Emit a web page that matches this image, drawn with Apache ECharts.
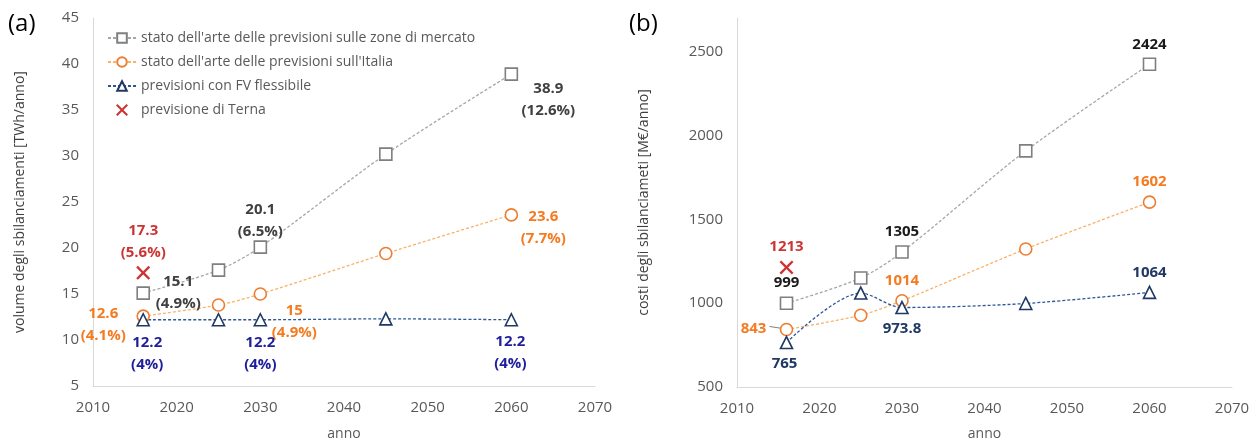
<!DOCTYPE html>
<html>
<head>
<meta charset="utf-8">
<script src="https://cdn.jsdelivr.net/npm/echarts@6/dist/echarts.min.js"></script>
<style>
  html, body { margin: 0; padding: 0; background: #fff; }
  #chart { width: 1258px; height: 446px; }
</style>
</head>
<body>
<div id="chart"></div>
<script>
// dati
var years = [2016, 2025, 2030, 2045, 2060];
var ternaYear = 2016;

// (a) volume degli sbilanciamenti [TWh/anno]
var volMercato = [15.1, 17.6, 20.1, 30.2, 38.9];
var volItalia = [12.6, 13.8, 15.0, 19.4, 23.6];
var volFV = [12.2, 12.2, 12.2, 12.3, 12.2];
var volTerna = 17.3;
var volMercatoText = ['15.1\n(4.9%)', '', '20.1\n(6.5%)', '', '38.9\n(12.6%)'];
var volItaliaText = ['12.6\n(4.1%)', '', '15\n(4.9%)', '', '23.6\n(7.7%)'];
var volFVText = ['12.2\n(4%)', '', '12.2\n(4%)', '', '12.2\n(4%)'];
var volTernaText = '17.3\n(5.6%)';

// (b) costi degli sbilanciamenti [M€/anno]
var costMercato = [999, 1150, 1305, 1908, 2424];
var costItalia = [843, 928, 1014, 1323, 1602];
var costFV = [765, 1060, 973.8, 998, 1064];
var costTerna = 1213;
var costMercatoText = ['999', '', '1305', '', '2424'];
var costItaliaText = ['843', '', '1014', '', '1602'];
var costFVText = ['765', '', '973.8', '', '1064'];
var costTernaText = '1213';

var xTicks = [2010, 2070, 10];
var volTicks = [5, 45, 5];
var costTicks = [500, 2700, 500];

var names = [
  "stato dell'arte delle previsioni sulle zone di mercato",
  "stato dell'arte delle previsioni sull'Italia",
  'previsioni con FV flessibile',
  'previsione di Terna'
];

(function () {
  var FONT = '"Open Sans", "Noto Sans", sans-serif';
  var GRAY = '#595959';
  var X_PATH = 'path://M1.2,0L5,3.8L8.8,0L10,1.2L6.2,5L10,8.8L8.8,10L5,6.2L1.2,10L0,8.8L3.8,5L0,1.2Z';

  // offset delle etichette rispetto al punto
  var offVolMercato = [[35, 0], null, [0, -26], null, [37, 26]];
  var offVolItalia = [[-40, 9], null, [34, 28], null, [32, 13]];
  var offVolFV = [[4, 34], null, [0, 34], null, [-1, 33]];
  var offCostMercato = [[0, -21], null, [0, -20], null, [0, -20]];
  var offCostItalia = [[-33, -1], null, [0, -20], null, [0, -20]];
  var offCostFV = [[-2, 21], null, [0, 21], null, [0, -20]];

  function plain(v) {
    return String(v);
  }

  function pts(vals, texts, offs, color) {
    return years.map(function (y, i) {
      var item = { value: [y, vals[i]] };
      if (texts[i]) {
        item.label = {
          show: true,
          position: 'inside',
          offset: offs[i],
          formatter: texts[i],
          color: color,
          fontFamily: FONT,
          fontWeight: 'bold',
          fontSize: 15,
          lineHeight: 22,
          align: 'center'
        };
      }
      return item;
    });
  }

  function lineSeries(name, idx, data, lineColor, markColor, symbol) {
    return {
      name: name,
      type: 'line',
      xAxisIndex: idx,
      yAxisIndex: idx,
      smooth: 0.3,
      symbol: symbol,
      symbolSize: 12,
      showAllSymbol: true,
      lineStyle: { color: lineColor, width: 1.3, type: [3, 2] },
      itemStyle: { color: '#fff', borderColor: markColor, borderWidth: 1.6 },
      emphasis: { disabled: true },
      z: 3,
      data: data
    };
  }

  function ternaSeries(idx, value, text, off) {
    return {
      name: names[3],
      type: 'scatter',
      xAxisIndex: idx,
      yAxisIndex: idx,
      symbol: X_PATH,
      symbolSize: 14,
      itemStyle: { color: '#c00000' },
      emphasis: { disabled: true },
      data: [{
        value: [ternaYear, value],
        label: {
          show: true,
          position: 'inside',
          offset: off,
          formatter: text,
          color: '#c00000',
          fontFamily: FONT,
          fontWeight: 'bold',
          fontSize: 15,
          lineHeight: 22,
          align: 'center'
        }
      }]
    };
  }

  function xAxis(idx) {
    return {
      gridIndex: idx,
      type: 'value',
      min: xTicks[0],
      max: xTicks[1],
      interval: xTicks[2],
      name: 'anno',
      nameLocation: 'middle',
      nameGap: idx === 0 ? 41 : 40,
      nameTextStyle: { color: GRAY, fontFamily: FONT, fontSize: 14 },
      axisLine: { lineStyle: { color: '#d9d9d9' } },
      axisTick: { show: false },
      splitLine: { show: false },
      axisLabel: { color: GRAY, fontFamily: FONT, fontSize: 15, margin: 14, formatter: plain }
    };
  }

  function yAxis(idx, ticks, name, gap) {
    return {
      gridIndex: idx,
      type: 'value',
      min: ticks[0],
      max: ticks[1],
      interval: ticks[2],
      name: name,
      nameLocation: 'middle',
      nameGap: gap,
      nameTextStyle: { color: '#404040', fontFamily: FONT, fontSize: 14 },
      axisLine: { show: true, lineStyle: { color: '#d9d9d9' } },
      axisTick: { show: false },
      splitLine: { show: false },
      axisLabel: {
        color: GRAY, fontFamily: FONT, fontSize: 15, margin: 14,
        showMaxLabel: idx === 0, formatter: plain
      }
    };
  }

  var chart = echarts.init(document.getElementById('chart'));
  chart.setOption({
    animation: false,
    backgroundColor: '#fff',
    graphic: [
      { type: 'text', left: 8, top: 12, style: { text: '(a)', fontSize: 24, fontFamily: FONT, fill: '#000' } },
      { type: 'text', left: 629, top: 12, style: { text: '(b)', fontSize: 24, fontFamily: FONT, fill: '#000' } }
    ],
    legend: {
      orient: 'vertical',
      left: 102,
      top: 26,
      itemGap: 10,
      itemWidth: 28,
      itemHeight: 12,
      selectedMode: false,
      textStyle: { color: GRAY, fontFamily: FONT, fontSize: 14 },
      data: names
    },
    grid: [
      { left: 93, top: 18, width: 502, height: 373 },
      { left: 737, top: 18, width: 495, height: 369 }
    ],
    xAxis: [xAxis(0), xAxis(1)],
    yAxis: [
      yAxis(0, volTicks, 'volume degli sbilanciamenti [TWh/anno]', 66),
      yAxis(1, costTicks, 'costi degli sbilanciameti [M€/anno]', 86)
    ],
    series: [
      lineSeries(names[0], 0, pts(volMercato, volMercatoText, offVolMercato, '#404040'), '#a6a6a6', '#7f7f7f', 'rect'),
      lineSeries(names[1], 0, pts(volItalia, volItaliaText, offVolItalia, '#f47b20'), '#f8b26a', '#ed7d31', 'circle'),
      lineSeries(names[2], 0, pts(volFV, volFVText, offVolFV, '#1f1f9c'), '#2f5597', '#1f3864', 'triangle'),
      ternaSeries(0, volTerna, volTernaText, [0, -31]),
      lineSeries(names[0], 1, pts(costMercato, costMercatoText, offCostMercato, '#1a1a1a'), '#a6a6a6', '#7f7f7f', 'rect'),
      lineSeries(names[1], 1, pts(costItalia, costItaliaText, offCostItalia, '#f47b20'), '#f8b26a', '#ed7d31', 'circle'),
      lineSeries(names[2], 1, pts(costFV, costFVText, offCostFV, '#1f3864'), '#2f5597', '#1f3864', 'triangle'),
      ternaSeries(1, costTerna, costTernaText, [0, -21])
    ]
  });

  // linea guida dell'etichetta 843
  var p = chart.convertToPixel({ gridIndex: 1 }, [years[0], costItalia[0]]);
  chart.setOption({
    graphic: [
      { type: 'text', left: 8, top: 12, style: { text: '(a)', fontSize: 24, fontFamily: FONT, fill: '#000' } },
      { type: 'text', left: 629, top: 12, style: { text: '(b)', fontSize: 24, fontFamily: FONT, fill: '#000' } },
      {
        type: 'line',
        shape: { x1: p[0] - 17, y1: p[1] - 3, x2: p[0] - 4, y2: p[1] - 1 },
        style: { stroke: '#7f7f7f', lineWidth: 1 },
        z: 2
      }
    ]
  });
})();
</script>
</body>
</html>
